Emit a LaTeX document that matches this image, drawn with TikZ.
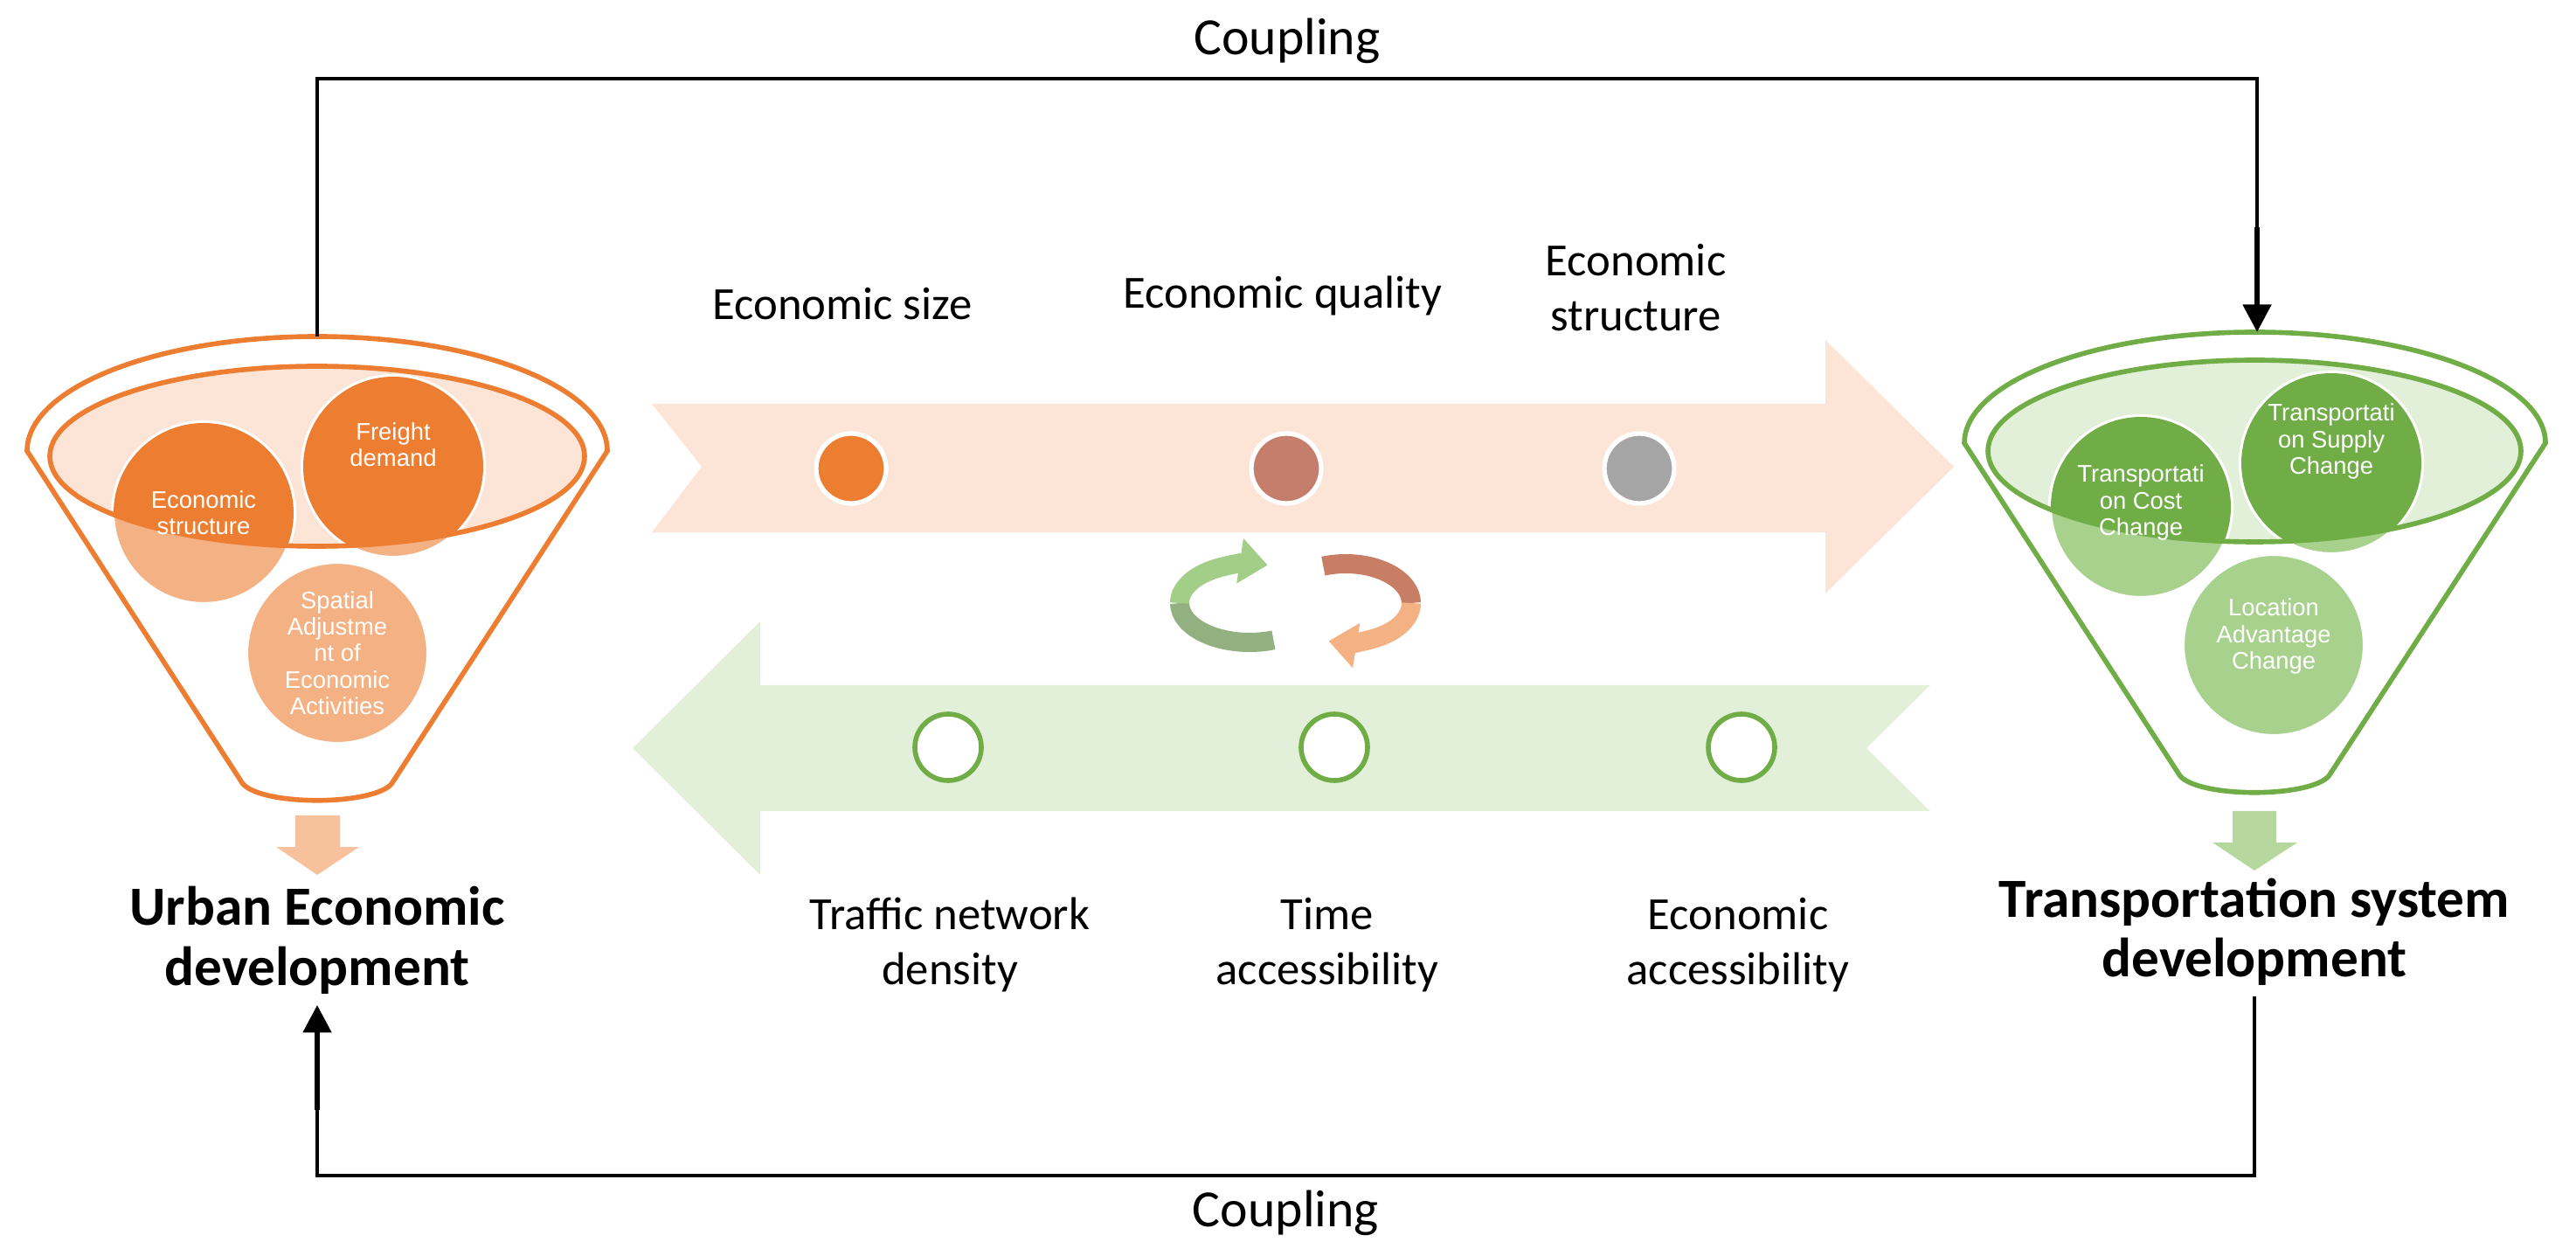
\documentclass[tikz,border=0pt]{standalone}
\usepackage{fontspec}
\setmainfont{Carlito}
\newfontfamily\circfont{Liberation Sans}
\usepackage{xcolor}
\usetikzlibrary{arrows.meta,positioning}

\definecolor{orDark}{HTML}{ED7D31}
\definecolor{orLight}{HTML}{F4B183}
\definecolor{orPale}{HTML}{FCE4D6}
\definecolor{orBrown}{HTML}{C47E6B}
\definecolor{grDark}{HTML}{70AD47}
\definecolor{grLight}{HTML}{A9D18E}
\definecolor{grPale}{HTML}{E2F0D9}
\definecolor{dotGray}{HTML}{A5A5A5}

\begin{document}
\begin{tikzpicture}[
        funnel/.style={line width=1.6pt, fill=white},
        bubble/.style={circle, draw=white, line width=1.2pt, minimum size=2.08cm, inner sep=0pt},
        btext/.style={text=white, align=center, font=\circfont\fontsize{7.8}{8.6}\selectfont},
        dot/.style={circle, draw=white, line width=1.5pt, minimum size=0.8cm, inner sep=0pt},
        ring/.style={circle, draw=grDark, fill=white, line width=1.6pt, minimum size=0.76cm, inner sep=0pt},
        label/.style={align=center, font=\fontsize{15}{18}\selectfont},
        title/.style={align=center, font=\bfseries\fontsize{18}{19.5}\selectfont},
        couple/.style={line width=1pt},
        arrow/.style={line width=1.8pt, -{Triangle[width=9pt,length=9pt]}}
    ]
        \useasboundingbox (0,0) rectangle (29.48,14.2);

        % Big block arrows
        \fill[orPale] (7.46,9.58) -- (20.89,9.58) -- (20.89,10.31) -- (22.36,8.86) -- (20.89,7.41)
            -- (20.89,8.11) -- (7.46,8.11) -- (8.03,8.86) -- cycle;
        \fill[grPale] (7.24,5.64) -- (8.70,7.09) -- (8.70,6.36) -- (22.09,6.36) -- (21.36,5.64)
            -- (22.09,4.92) -- (8.70,4.92) -- (8.70,4.19) -- cycle;

        % Left funnel
        \coordinate (ltop) at (3.63,10.35);
        \draw[funnel, draw=orDark] (0.31,9.04) arc[start angle=180, end angle=0, x radius=3.32, y radius=1.31]
            -- (4.48,5.23) .. controls (4.25,4.98) and (3.01,4.98) .. (2.78,5.23) -- cycle;
        \fill[orPale] (3.63,8.98) ellipse[x radius=3.06, y radius=1.03];
        \node[bubble, fill=orLight] (econ) at (2.33,8.33) {};
        \node[bubble, fill=orLight] (freight) at (4.50,8.86) {};
        \node[bubble, fill=orLight] (spatial) at (3.86,6.73) {};
        \begin{scope}
            \clip (3.63,8.98) ellipse[x radius=3.06, y radius=1.03];
            \fill[orDark] (econ) circle[radius=1.03];
            \fill[orDark] (freight) circle[radius=1.03];
        \end{scope}
        \draw[orDark, line width=1.6pt] (3.63,8.98) ellipse[x radius=3.06, y radius=1.03];
        \node[btext] at (econ) {Economic\\structure};
        \node[btext] at ([yshift=0.25cm]freight) {Freight\\demand};
        \node[btext] at (spatial) {Spatial\\Adjustme\\nt of\\Economic\\Activities};

        % Right funnel
        \coordinate (rtop) at (25.83,10.40);
        \draw[funnel, draw=grDark] (22.48,9.13) arc[start angle=180, end angle=0, x radius=3.325, y radius=1.27]
            -- (26.65,5.32) .. controls (26.42,5.07) and (25.18,5.07) .. (24.95,5.32) -- cycle;
        \fill[grPale] (25.80,9.04) ellipse[x radius=3.05, y radius=1.04];
        \node[bubble, fill=grLight] (cost) at (24.50,8.40) {};
        \node[bubble, fill=grLight] (supply) at (26.68,8.90) {};
        \node[bubble, fill=grLight] (location) at (26.02,6.82) {};
        \begin{scope}
            \clip (25.80,9.04) ellipse[x radius=3.05, y radius=1.04];
            \fill[grDark] (cost) circle[radius=1.03];
            \fill[grDark] (supply) circle[radius=1.03];
        \end{scope}
        \draw[grDark, line width=1.6pt] (25.80,9.04) ellipse[x radius=3.05, y radius=1.04];
        \node[btext] at ([yshift=0.05cm]cost) {Transportati\\on Cost\\Change};
        \node[btext] at ([yshift=0.25cm]supply) {Transportati\\on Supply\\Change};
        \node[btext] at ([yshift=0.1cm]location) {Location\\Advantage\\Change};

        % Down arrows under the funnels
        \fill[orLight!80] (3.38,4.87) -- (3.89,4.87) -- (3.89,4.51) -- (4.11,4.51) -- (3.63,4.19)
            -- (3.16,4.51) -- (3.38,4.51) -- cycle;
        \fill[grLight!85] (25.55,4.92) -- (26.05,4.92) -- (26.05,4.56) -- (26.29,4.56) -- (25.80,4.24)
            -- (25.32,4.56) -- (25.55,4.56) -- cycle;

        % Titles
        \node[title] (urban) at (3.63,3.44) {Urban Economic\\development};
        \node[title] (trans) at (25.80,3.54) {Transportation system\\development};

        % Dots on the arrows
        \node[dot, fill=orDark] (d1) at (9.74,8.84) {};
        \node[dot, fill=orBrown] (d2) at (14.72,8.84) {};
        \node[dot, fill=dotGray] (d3) at (18.76,8.84) {};
        \node[ring] (r1) at (10.85,5.65) {};
        \node[ring] (r2) at (15.27,5.65) {};
        \node[ring] (r3) at (19.93,5.65) {};

        % Labels
        \node[label] at (9.64,10.72) {Economic size};
        \node[label] at (14.68,10.82) {Economic quality};
        \node[label] at (18.72,10.91) {Economic\\structure};
        \node[label] at (10.87,3.39) {Traffic network\\density};
        \node[label] at (15.19,3.39) {Time\\accessibility};
        \node[label] at (19.89,3.39) {Economic\\accessibility};

        % Cycle arrows
        \draw[grLight!80!black!90, line width=0.22cm] (14.30,7.30) ++(-70:0.8 and 0.45) arc[start angle=-70, end angle=-180, x radius=0.8, y radius=0.45];
        \draw[grLight!90!grDark, line width=0.22cm, -{Triangle[width=0.5cm,length=0.32cm]}] (13.50,7.30) arc[start angle=180, end angle=75, x radius=0.8, y radius=0.45];
        \draw[orBrown!90!orDark, line width=0.22cm] (15.40,7.30) ++(110:0.75 and 0.45) arc[start angle=110, end angle=0, x radius=0.75, y radius=0.45];
        \draw[orLight, line width=0.22cm, -{Triangle[width=0.5cm,length=0.32cm]}] (16.15,7.30) arc[start angle=0, end angle=-105, x radius=0.75, y radius=0.45];

        % Coupling connectors
        \draw[couple] (ltop) -- (3.63,13.30) -- node[above=1pt, font=\fontsize{17}{20}\selectfont] {Coupling} (25.83,13.30) -- (25.83,11.5);
        \draw[arrow] (25.83,11.6) -- (rtop);
        \draw[couple] (trans.south) -- (trans.south |- 0,0.75) -- node[below=1pt, font=\fontsize{17}{20}\selectfont] {Coupling} (3.63,0.75) -- (3.63,1.6);
        \draw[arrow] (3.63,1.5) -- (urban.south);
\end{tikzpicture}
\end{document}
